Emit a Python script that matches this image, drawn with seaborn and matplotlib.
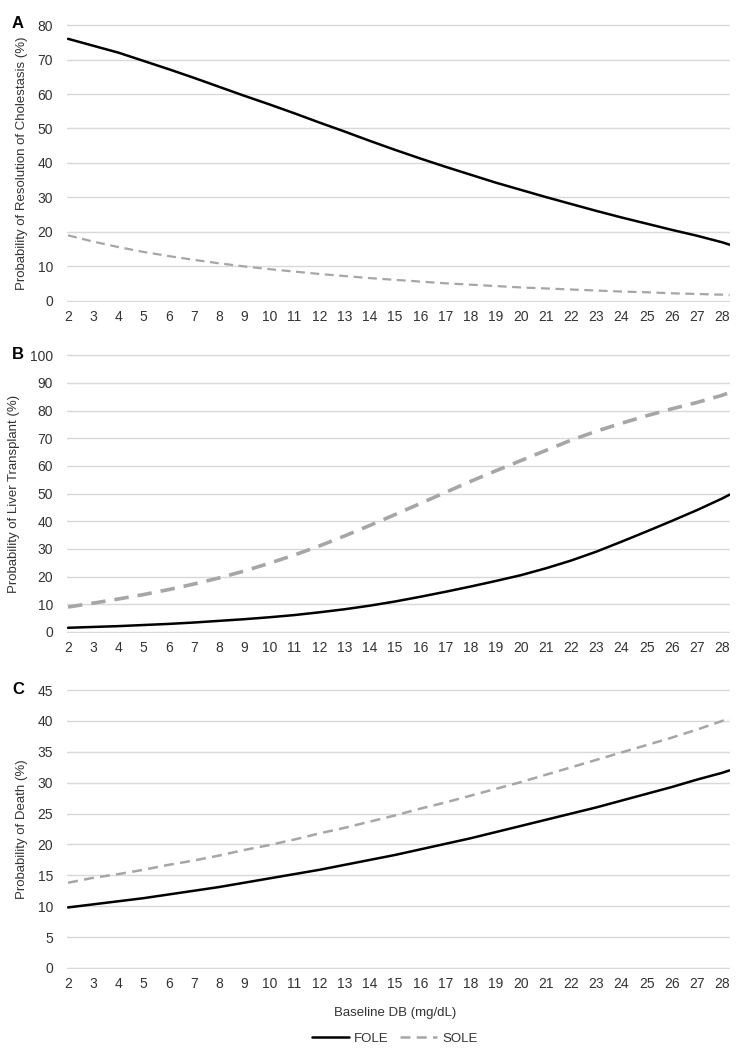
import pandas as pd
import numpy as np
import matplotlib.pyplot as plt
import seaborn as sns
from matplotlib.lines import Line2D

sns.set_theme(style="white")
plt.rcParams["font.family"] = ["Liberation Sans", "DejaVu Sans"]

# Baseline DB (mg/dL)
db = [2, 3, 4, 5, 6, 7, 8, 9, 10, 11, 12, 13, 14, 15, 16, 17, 18, 19, 20,
      21, 22, 23, 24, 25, 26, 27, 28, 28.3]

# A - resolution of cholestasis (%)
res_fole = [76, 74, 72, 69.6, 67.2, 64.7, 62.1, 59.5, 57, 54.4, 51.7, 49.1, 46.4,
            43.8, 41.3, 38.9, 36.6, 34.3, 32.2, 30.1, 28.1, 26.1, 24.2, 22.4,
            20.6, 18.9, 17.0, 16.3]
res_sole = [19, 17.2, 15.6, 14.2, 13, 11.9, 10.9, 10, 9.2, 8.5, 7.8, 7.2, 6.6,
            6.1, 5.6, 5.1, 4.7, 4.3, 3.9, 3.6, 3.3, 3, 2.7, 2.5, 2.2, 2, 1.8, 1.7]

# B - liver transplant (%)
lt_fole = [1.5, 1.8, 2.1, 2.5, 2.9, 3.4, 4, 4.6, 5.3, 6.1, 7.1, 8.2, 9.5, 11,
           12.7, 14.5, 16.4, 18.4, 20.5, 23, 25.8, 29, 32.6, 36.3, 40.1, 44,
           48.2, 49.6]
lt_sole = [9, 10.4, 11.9, 13.5, 15.3, 17.3, 19.5, 22, 24.8, 27.8, 31.1, 34.7,
           38.5, 42.4, 46.4, 50.4, 54.4, 58.2, 61.9, 65.6, 69.3, 72.5, 75.4,
           78.1, 80.6, 82.9, 85.5, 86.5]

# C - death (%)
death_fole = [9.8, 10.3, 10.8, 11.3, 11.9, 12.5, 13.1, 13.8, 14.5, 15.2, 15.9,
              16.7, 17.5, 18.3, 19.2, 20.1, 21, 22, 23, 24, 25, 26, 27.1, 28.2,
              29.3, 30.5, 31.6, 32]
death_sole = [13.8, 14.6, 15.2, 15.9, 16.7, 17.4, 18.2, 19.1, 19.9, 20.8, 21.8,
              22.7, 23.7, 24.7, 25.8, 26.8, 27.9, 29, 30.1, 31.3, 32.5, 33.7,
              34.9, 36.1, 37.3, 38.6, 40.0, 40.5]

xticks = list(range(2, 29))

panels = [
    ("A", res_fole, res_sole, "Probability of Resolution of Cholestasis (%)", 80, 10, 1.6),
    ("B", lt_fole, lt_sole, "Probability of Liver Transplant (%)", 100, 10, 2.6),
    ("C", death_fole, death_sole, "Probability of Death (%)", 45, 5, 1.8),
]

# axes boxes in figure coords [left, bottom, width, height]
boxes = [
    [0.090, 0.7124, 0.890, 0.2648],
    [0.090, 0.3971, 0.890, 0.2657],
    [0.090, 0.0771, 0.890, 0.2667],
]

fig = plt.figure(figsize=(7.45, 10.5), dpi=100)
text_col = "#333333"

for (letter, fole, sole, ylab, ymax, ystep, dash_lw), box in zip(panels, boxes):
    ax = fig.add_axes(box)
    df = pd.DataFrame({"DB": db * 2,
                       "Prob": fole + sole,
                       "Group": ["FOLE"] * len(db) + ["SOLE"] * len(db)})
    sns.lineplot(data=df[df.Group == "FOLE"], x="DB", y="Prob", color="black",
                 linewidth=1.8, ax=ax, legend=False)
    sns.lineplot(data=df[df.Group == "SOLE"], x="DB", y="Prob", color="#a6a6a6",
                 linewidth=dash_lw, dashes=False, ax=ax, legend=False)
    ax.lines[-1].set_linestyle((0, (4, 2.5)))

    ax.set_xlim(1.96, 28.32)
    ax.set_ylim(-0.004 * ymax, ymax * 1.004)
    ax.set_xticks(xticks)
    ax.set_yticks(np.arange(0, ymax + 1, ystep))
    ax.yaxis.grid(True, color="#d9d9d9", linewidth=1)
    ax.xaxis.grid(False)
    for s in ax.spines.values():
        s.set_visible(False)
    ax.tick_params(axis="both", length=0, labelsize=10, colors=text_col, pad=6)
    ax.tick_params(axis="y", pad=10)
    ax.set_xlabel("")
    ax.set_ylabel(ylab, fontsize=9.5, color=text_col, labelpad=7)
    ax.set_axisbelow(True)
    fig.text(0.016, box[1] + box[3], letter, fontsize=12, fontweight="bold",
             color="black", va="center", ha="left")

fig.text(0.53, 0.035, "Baseline DB (mg/dL)", fontsize=9.5, color=text_col,
         ha="center", va="center")

handles = [Line2D([0], [0], color="black", lw=1.8),
           Line2D([0], [0], color="#a6a6a6", lw=1.8, linestyle=(0, (4, 2.5)))]
fig.legend(handles, ["FOLE", "SOLE"], loc="center", bbox_to_anchor=(0.53, 0.011),
           ncol=2, frameon=False, fontsize=9.5, handlelength=2.8,
           handletextpad=0.4, columnspacing=0.9, labelcolor=text_col)

fig.savefig("out.png", dpi=100)
